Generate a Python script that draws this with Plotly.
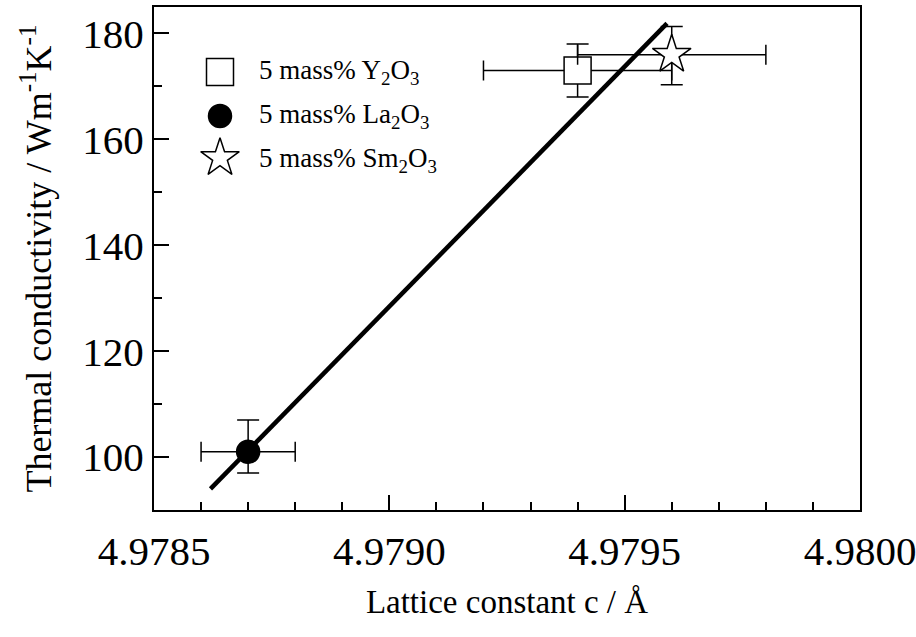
import plotly.graph_objects as go

# ---- data ----
names = ["5 mass% Y<sub>2</sub>O<sub>3</sub>",
         "5 mass% La<sub>2</sub>O<sub>3</sub>",
         "5 mass% Sm<sub>2</sub>O<sub>3</sub>"]
lattice_c = [4.9794, 4.9787, 4.9796]
lattice_err = [0.0002, 0.0001, 0.0002]
conductivity = [173.0, 101.0, 176.0]
cond_err_plus = [5.0, 6.0, 5.3]
cond_err_minus = [5.0, 4.0, 5.7]

fit_x = [4.97862, 4.97959]
fit_y = [94.0, 181.9]

x_ticks = [4.9785, 4.9790, 4.9795, 4.9800]
x_ticklabels = ["4.9785", "4.9790", "4.9795", "4.9800"]
y_ticks = [100, 120, 140, 160, 180]

# ---- styles ----
FONT = "Liberation Serif"
symbols = ["square", "circle", "star"]
fills = ["white", "black", "white"]
sizes = [27, 23, 29]

fig = go.Figure()

for i in range(3):
    fig.add_trace(go.Scatter(
        x=[lattice_c[i]], y=[conductivity[i]], mode="markers",
        marker=dict(symbol=symbols[i], size=sizes[i], color=fills[i],
                    line=dict(color="black", width=1.5)),
        error_x=dict(type="data", array=[lattice_err[i]], color="black",
                     thickness=1.5, width=10),
        error_y=dict(type="data", array=[cond_err_plus[i]],
                     arrayminus=[cond_err_minus[i]], color="black",
                     thickness=1.5, width=11),
        showlegend=False, hoverinfo="skip"))

fig.add_trace(go.Scatter(x=fit_x, y=fit_y, mode="lines",
                         line=dict(color="black", width=4.5),
                         showlegend=False, hoverinfo="skip"))

# ---- custom legend (markers on an overlay paper-like axis) ----
PLOT_L, PLOT_R, PLOT_T, PLOT_B = 154, 860, 7, 510
W, H = PLOT_R - PLOT_L, PLOT_B - PLOT_T
def px(xp):
    return (xp - PLOT_L) / W
def py(yp):
    return (PLOT_B - yp) / H

leg_y = [72, 116, 160]
for i in range(3):
    fig.add_trace(go.Scatter(
        x=[px(220)], y=[py(leg_y[i] - (2 if symbols[i] == "star" else 0))],
        xaxis="x2", yaxis="y2", mode="markers",
        marker=dict(symbol=symbols[i], size=sizes[i], color=fills[i],
                    line=dict(color="black", width=1.5)),
        showlegend=False, hoverinfo="skip"))
    fig.add_annotation(x=px(257), y=py(leg_y[i]), xref="paper", yref="paper",
                       text=names[i], showarrow=False, xanchor="left",
                       yanchor="middle",
                       font=dict(family=FONT, size=27, color="black"))

axis_common = dict(showline=True, linecolor="black", linewidth=2,
                   mirror=True, ticks="inside", tickcolor="black",
                   tickwidth=2, ticklen=15, showgrid=False, zeroline=False,
                   ticklabeloverflow="allow", automargin=False,
                   tickfont=dict(family=FONT, size=41, color="black"))

fig.update_layout(
    template="none",
    width=916, height=637,
    margin=dict(l=PLOT_L, r=916 - PLOT_R, t=PLOT_T, b=637 - PLOT_B),
    paper_bgcolor="white", plot_bgcolor="white",
    font=dict(family=FONT, color="black"),
    xaxis=dict(range=[4.9785, 4.9800], tickvals=x_ticks,
               ticktext=x_ticklabels, ticklabelstandoff=4,
               minor=dict(ticks="inside", dtick=0.0001, ticklen=8,
                          tickwidth=2, tickcolor="black"),
               title=dict(text="Lattice constant c / Å", standoff=17,
                          font=dict(family=FONT, size=33, color="black")),
               **axis_common),
    yaxis=dict(range=[90, 185], tickvals=y_ticks, ticklabelstandoff=0,
               minor=dict(ticks="inside", dtick=10, ticklen=8,
                          tickwidth=2, tickcolor="black"),
               title=dict(text="Thermal conductivity / Wm<sup>-1</sup>K<sup>-1</sup>",
                          standoff=20,
                          font=dict(family=FONT, size=36, color="black")),
               **axis_common),
    xaxis2=dict(domain=[0, 1], range=[0, 1], visible=False, overlaying="x",
                anchor="y2"),
    yaxis2=dict(domain=[0, 1], range=[0, 1], visible=False, overlaying="y",
                anchor="x2"),
)

fig.write_html("out.html", config={"displayModeBar": False},
               post_script="document.body.style.margin='0px';"
                           "document.body.style.overflow='hidden';")
